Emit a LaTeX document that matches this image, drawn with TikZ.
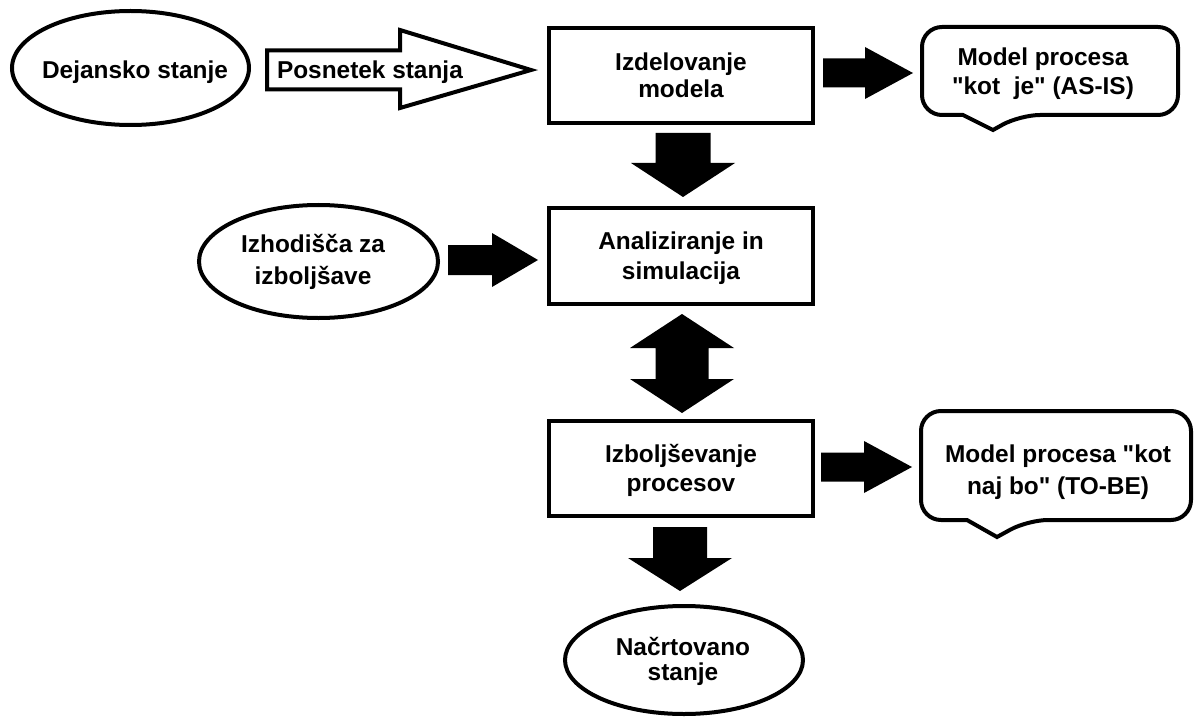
\documentclass[tikz,border=0pt]{standalone}
\usepackage{fontspec}
\setmainfont[Ligatures=TeXOff]{Liberation Sans}
\usetikzlibrary{calc,shapes.geometric}

% one text line: cap height only, no depth, so nodes centre on the letters
\newcommand\tline[1]{\raisebox{0pt}[17bp][0pt]{#1}}
\newcommand\lblfont[1]{\fontsize{24.5}{#1}\selectfont\bfseries}

% filled block arrows: start point, tip, half shaft, half head, head length
\newcommand\blkright[5]{%
  \fill ($(#1)+(0,-#3)$) -- ($(#2)+(-#5,-#3)$) -- ($(#2)+(-#5,-#4)$) -- (#2)
    -- ($(#2)+(-#5,#4)$) -- ($(#2)+(-#5,#3)$) -- ($(#1)+(0,#3)$) -- cycle;}
\newcommand\blkdown[5]{%
  \fill ($(#1)+(-#3,0)$) -- ($(#2)+(-#3,-#5)$) -- ($(#2)+(-#4,-#5)$) -- (#2)
    -- ($(#2)+(#4,-#5)$) -- ($(#2)+(#3,-#5)$) -- ($(#1)+(#3,0)$) -- cycle;}
\newcommand\blkboth[5]{%
  \fill (#1) -- ($(#1)+(#4,#5)$) -- ($(#1)+(#3,#5)$) -- ($(#2)+(#3,-#5)$)
    -- ($(#2)+(#4,-#5)$) -- (#2) -- ($(#2)+(-#4,-#5)$) -- ($(#2)+(-#3,-#5)$)
    -- ($(#1)+(-#3,#5)$) -- ($(#1)+(-#4,#5)$) -- cycle;}

\tikzset{
  outline/.style={draw=black, line width=4bp, inner sep=0pt, outer sep=0pt},
  procbox/.style={outline, rectangle, minimum width=264bp, minimum height=95bp, align=center},
  stateoval/.style={outline, ellipse},
  nodetext/.style={inner sep=0pt, outer sep=0pt, align=center, text=black},
  calloutbody/.style={inner sep=0pt, outer sep=0pt},
  calloutline/.style={draw=black, line width=4bp, fill=white, rounded corners=20bp},
  hollowarrow/.style={draw=black, line width=4bp, line join=miter, fill=white},
}

\begin{document}
\begin{tikzpicture}[x=1bp,y=-1bp]
\useasboundingbox (0,0) rectangle (1195,718);
\fill[white] (0,0) rectangle (1195,718);

% states (ellipses)
\node[stateoval, minimum width=237bp, minimum height=114bp] (e1) at (130.5,68) {};
\node[nodetext, font=\lblfont{29}] (e1t) at (135,70) {\tline{Dejansko stanje}};

\node[stateoval, minimum width=239bp, minimum height=113bp] (e2) at (318.5,261.5) {};
\node[nodetext, font=\lblfont{33}] (e2t) at (313,260) {\tline{Izhodišča za}\\\tline{izboljšave}};

\node[stateoval, minimum width=238bp, minimum height=108bp] (e3) at (684,660) {};
\node[nodetext, font=\lblfont{26}] (e3t) at (683,659.5) {\tline{Načrtovano}\\\tline{stanje}};

% process steps
\node[procbox, font=\lblfont{27}] (box1) at (681,75.5) {\tline{Izdelovanje}\\\tline{modela}};
\node[procbox, minimum height=96bp, font=\lblfont{30}] (box2) at (681,256) {\tline{Analiziranje in}\\\tline{simulacija}};
\node[procbox, font=\lblfont{29}] (box3) at (681,468.5) {\tline{Izboljševanje}\\\tline{procesov}};

% results (speech-bubble callouts)
\node[calloutbody, minimum width=256bp, minimum height=88bp] (c1) at (1050,71) {};
\draw[calloutline] ($(c1.south west)+(41,0)$) -- (c1.south west) -- (c1.north west)
  -- (c1.north east) -- (c1.south east) -- ($(c1.south west)+(98,0)$)
  [sharp corners] -- ($(c1.south west)+(71,15)$) -- cycle;
\node[nodetext, font=\lblfont{30}] (c1t) at (1043,71.5) {\tline{Model procesa}\\\tline{"kot~~je" (AS-IS)}};

\node[calloutbody, minimum width=270bp, minimum height=109bp] (c2) at (1056,465.5) {};
\draw[calloutline] ($(c2.south west)+(46,0)$) -- (c2.south west) -- (c2.north west)
  -- (c2.north east) -- (c2.south east) -- ($(c2.south west)+(107,0)$)
  [sharp corners] -- ($(c2.south west)+(76,17)$) -- cycle;
\node[nodetext, font=\lblfont{33}] (c2t) at (1058,470) {\tline{Model procesa "kot}\\\tline{naj bo" (TO-BE)}};

% hollow arrow: current state -> model building
\coordinate (h1) at ($(e1.east)+(18,2)$);
\coordinate (h2) at ($(box1.west |- h1)+(-18,0)$);
\draw[hollowarrow] ($(h1)+(0,-19.5)$) -- ($(h2)+(-131,-19.5)$) -- ($(h2)+(-131,-40)$)
  -- (h2) -- ($(h2)+(-131,38)$) -- ($(h2)+(-131,19.5)$) -- ($(h1)+(0,19.5)$) -- cycle;
\node[nodetext, anchor=west, font=\lblfont{29}] (h1t) at ($(h1)+(10,0)$) {\tline{Posnetek stanja}};

% filled block arrows
\coordinate (a1s) at ($(box1.east)+(10,-2.5)$);
\coordinate (a1e) at ($(c1.west |- a1s)+(-9,0)$);
\blkright{a1s}{a1e}{14.5}{26}{48}

\coordinate (a2s) at ($(box1.south)+(2,10)$);
\coordinate (a2e) at ($(box2.north -| a2s)+(0,-11)$);
\blkdown{a2s}{a2e}{27.5}{52}{34}

\coordinate (a3s) at ($(e2.east)+(10,-1.5)$);
\coordinate (a3e) at ($(box2.west |- a3s)+(-11,0)$);
\blkright{a3s}{a3e}{15}{27}{46}

\coordinate (a4t) at ($(box2.south)+(1,10)$);
\coordinate (a4b) at ($(box3.north -| a4t)+(0,-8)$);
\blkboth{a4t}{a4b}{26.5}{52}{34}

\coordinate (a5s) at ($(box3.east)+(8,-1.5)$);
\coordinate (a5e) at ($(c2.west |- a5s)+(-9,0)$);
\blkright{a5s}{a5e}{14.5}{26}{48}

\coordinate (a6s) at ($(box3.south)+(-1,11)$);
\coordinate (a6e) at ($(e3.north -| a6s)+(0,-15)$);
\blkdown{a6s}{a6e}{27}{52}{33}
\end{tikzpicture}
\end{document}
